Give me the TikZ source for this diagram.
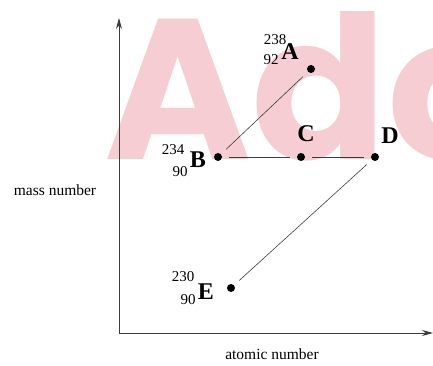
\documentclass[tikz,border=0pt]{standalone}
\usepackage{fontspec}
\setmainfont{Liberation Serif}
\newfontfamily\markfont{Poppins}
\usetikzlibrary{arrows.meta, positioning}

\definecolor{markpink}{RGB}{245,205,210}
\definecolor{axisgray}{RGB}{60,60,60}

\begin{document}
\begin{tikzpicture}[x=1pt, y=1pt,
    dot/.style={circle, fill=black, inner sep=0pt, minimum size=8pt},
    elem/.style={font=\fontsize{24}{24}\selectfont\bfseries, inner sep=0pt},
    num/.style={font=\fontsize{15}{15}\selectfont, inner sep=0pt},
    axlabel/.style={font=\fontsize{15.5}{16}\selectfont},
    decay/.style={draw=axisgray, line width=0.6pt, shorten <=7pt, shorten >=7pt},
    axis/.style={draw=axisgray, line width=0.8pt, -{Stealth[length=11pt, width=6pt]}}
]
\useasboundingbox (0,0) rectangle (433,366);

% watermark
\node[anchor=base west, inner sep=0pt, text=markpink,
      font=\markfont\bfseries\fontsize{200}{200}\selectfont] (mark) at (104,206) {Ado};

% axes
\coordinate (O) at (119,33);
\coordinate (ytop) at (119,348);
\coordinate (xend) at (433,33);
\draw[axis] (O) -- (ytop);
\draw[axis] (O) -- (xend);
\node[axlabel] (ylab) at (55,176) {mass number};
\node[axlabel] (xlab) at (272,12) {atomic number};

% nuclides
\node[dot] (A) at (311,297) {};
\node[dot] (B) at (218,209) {};
\node[dot] (C) at (301,209) {};
\node[dot] (D) at (375,209) {};
\node[dot] (E) at (231,78) {};

\node[elem] (lA) at (290,314) {A};
\node[num] (mA) at (275,326) {238};
\node[num] (zA) at (271,306) {92};

\node[elem] (lB) at (198,206) {B};
\node[num] (mB) at (173,216) {234};
\node[num] (zB) at (180,194) {90};

\node[elem] (lC) at (306,232) {C};
\node[elem] (lD) at (390,230) {D};

\node[elem] (lE) at (206,74) {E};
\node[num] (mE) at (183,89) {230};
\node[num] (zE) at (188,66) {90};

% decay chain
\draw[decay] (A) -- (B);
\draw[decay] (B) -- (C);
\draw[decay] (C) -- (D);
\draw[decay] (D) -- (E);
\end{tikzpicture}
\end{document}
